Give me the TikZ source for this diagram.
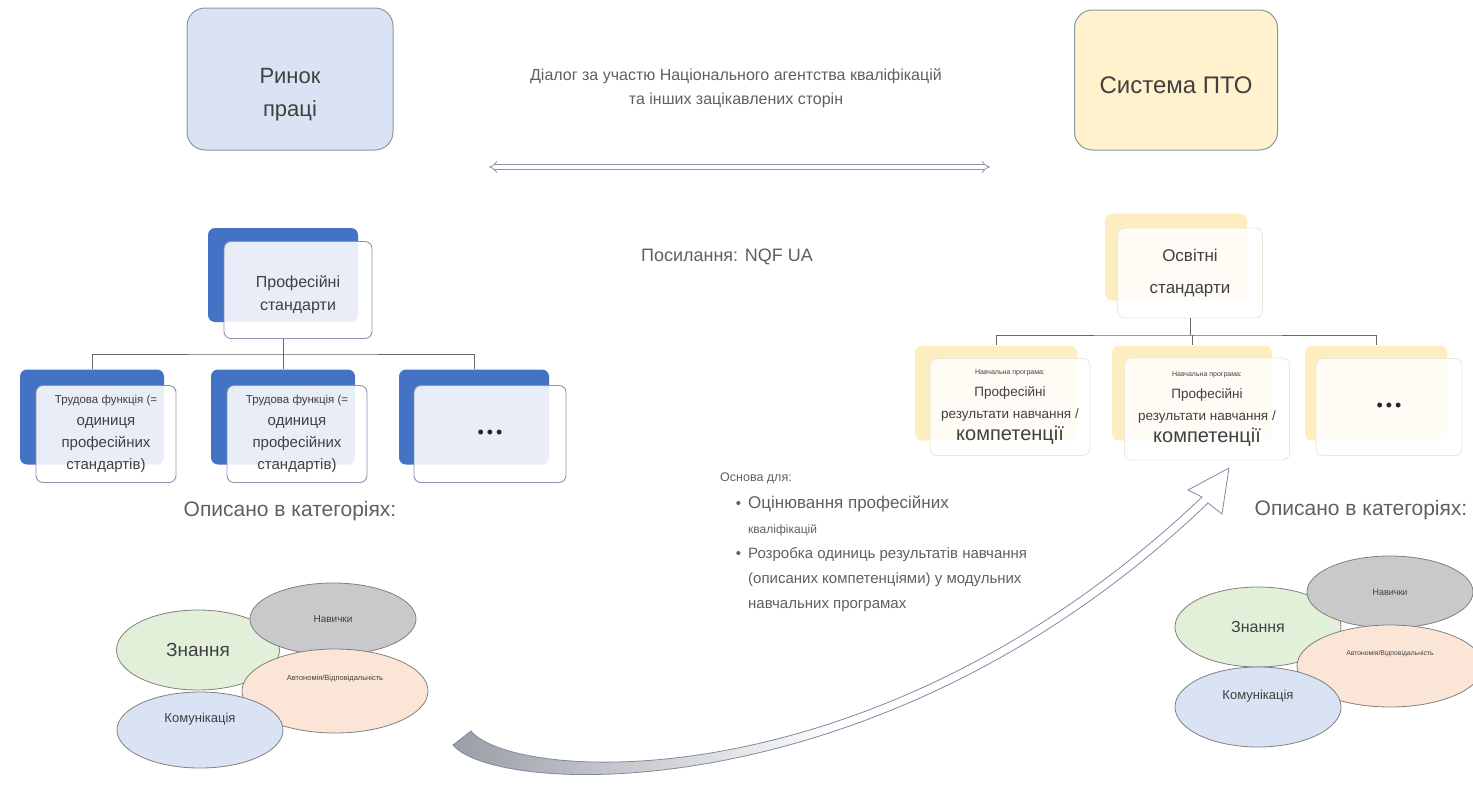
\documentclass[tikz,border=0pt]{standalone}
\usepackage{fontspec}
\setmainfont{Liberation Sans}
\usetikzlibrary{arrows.meta,shapes.geometric}

\definecolor{rinokfill}{HTML}{DAE3F3}
\definecolor{ptofill}{HTML}{FFF2CC}
\definecolor{navy}{HTML}{4472C4}
\definecolor{ypale}{HTML}{FDEEC2}
\definecolor{edgegrey}{HTML}{8A96A8}
\definecolor{yedge}{HTML}{EEE8DA}
\definecolor{txt}{HTML}{404040}
\definecolor{soft}{HTML}{5F5F5F}
\definecolor{znfill}{HTML}{E2F0D9}
\definecolor{navfill}{HTML}{C9C9CB}
\definecolor{avtfill}{HTML}{FBE5D6}
\definecolor{komfill}{HTML}{DAE3F3}
\definecolor{arrgrey}{HTML}{9A9EA5}
\definecolor{arrline}{HTML}{7D8AA0}

\newcommand{\fsz}[2]{\fontsize{#1}{#2}\selectfont}

\begin{document}
\begin{tikzpicture}[x=1pt, y=-1pt,
  bigbox/.style={draw=edgegrey, line width=1pt, rounded corners=18pt, align=center, text=txt, inner sep=0pt},
  backbox/.style={fill=navy, rounded corners=7pt, inner sep=0pt},
  frontbox/.style={draw=edgegrey, line width=0.9pt, fill=white, fill opacity=0.88, text opacity=1, rounded corners=7pt, align=center, text=txt, inner sep=0pt},
  yback/.style={fill=ypale, rounded corners=7pt, inner sep=0pt},
  yfront/.style={draw=yedge, line width=0.9pt, fill=white, fill opacity=0.85, text opacity=1, rounded corners=7pt, align=center, text=txt, inner sep=0pt},
  conn/.style={draw=black!60, line width=0.9pt},
  cat/.style={ellipse, draw=black!50, line width=0.8pt, text=txt, inner sep=0pt},
  dialogarrow/.style={draw=edgegrey, double=white, double distance=3.5pt, line width=0.8pt, {Implies}-{Implies}},
  bigarrow/.style={left color=arrgrey, right color=white, middle color=white, draw=arrline, line width=0.8pt}]

\useasboundingbox (0,0) rectangle (1473,785);
\clip (0,0) rectangle (1473,785);

\node (rinok) at (290,79) [bigbox, fill=rinokfill, minimum width=206, minimum height=142, font=\fsz{22}{33}, text height=79pt, text depth=5pt] {Ринок\\праці};
\node (pto) at (1176,80) [bigbox, fill=ptofill, minimum width=203, minimum height=140, font=\fsz{24}{28}, text height=27pt, text depth=0pt] {Система ПТО};

\node (dialog) at (736,88) [font=\fsz{16}{24}, text=soft, align=center] {Діалог за участю Національного агентства кваліфікацій\\та інших зацікавлених сторін};
\coordinate (dl) at (489,167);
\coordinate (dr) at (990,167);
\draw[dialogarrow] (dl) -- (dr);

\node (nqf) at (727,257) [font=\fsz{18}{20}, text=soft] {Посилання: NQF UA};

\node (profback) at (283,275) [backbox, minimum width=150, minimum height=94] {};
\node (prof) at (298,290) [frontbox, minimum width=148, minimum height=97, font=\fsz{16}{23}, text height=45pt, text depth=4pt] {Професійні\\стандарти};

\node (t1back) at (92,417) [backbox, minimum width=144, minimum height=95] {};
\node (t1) at (106,434) [frontbox, minimum width=140, minimum height=97, font=\fsz{15}{22}] {{\fsz{11.5}{22}Трудова функція (=}\\одиниця\\професійних\\стандартів)};
\node (t2back) at (283,417) [backbox, minimum width=144, minimum height=95] {};
\node (t2) at (297,434) [frontbox, minimum width=140, minimum height=97, font=\fsz{15}{22}] {{\fsz{11.5}{22}Трудова функція (=}\\одиниця\\професійних\\стандартів)};
\node (t3back) at (474,417) [backbox, minimum width=150, minimum height=95] {};
\node (t3) at (490,434) [frontbox, minimum width=152, minimum height=97, font=\fsz{18}{22}, text=black!85] {•\,•\,•};

\coordinate (lhub) at (283,354);
\draw[conn] (prof.south -| lhub) -- (lhub);
\draw[conn] (t1back.north) |- (lhub) -| (t3back.north);
\draw[conn] (lhub) -- (t2back.north);

\node (osvback) at (1176,257) [yback, minimum width=142, minimum height=87] {};
\node (osv) at (1190,273) [yfront, minimum width=145, minimum height=90, font=\fsz{17}{32}] {Освітні\\стандарти};

\node (n1back) at (996,393) [yback, minimum width=162, minimum height=95] {};
\node (n1) at (1010,407) [yfront, minimum width=160, minimum height=97, font=\fsz{13.5}{22}] {{\fsz{7}{22}Навчальна програма:}\\Професійні\\результати навчання /\\{\fsz{20}{22}компетенції}};
\node (n2back) at (1192,393) [yback, minimum width=160, minimum height=95] {};
\node (n2) at (1207,409) [yfront, minimum width=165, minimum height=102, font=\fsz{13.5}{22}] {{\fsz{7}{22}Навчальна програма:}\\Професійні\\результати навчання /\\{\fsz{20}{22}компетенції}};
\node (n3back) at (1376,393) [yback, minimum width=142, minimum height=95] {};
\node (n3) at (1389,407) [yfront, minimum width=146, minimum height=97, font=\fsz{18}{22}, text=black!85] {•\,•\,•};

\coordinate (rhub) at (1190,335);
\draw[conn] (osv.south) -- (rhub);
\draw[conn] (n1back.north) |- (rhub) -| (n3back.north);
\draw[conn] (n2back.north |- rhub) -- (n2back.north);

\node (opysL) at (290,511) [font=\fsz{21}{24}, text=soft] {Описано в категоріях:};
\node (opysR) at (1361,510) [font=\fsz{21}{24}, text=soft] {Описано в категоріях:};

\node (znL) at (198,650) [cat, fill=znfill, minimum width=163, minimum height=80, font=\fsz{19}{20}] {Знання};
\node (navL) at (333,619) [cat, fill=navfill, minimum width=166, minimum height=72, font=\fsz{10}{12}] {Навички};
\node (avtL) at (335,691) [cat, fill=avtfill, minimum width=186, minimum height=84, font=\fsz{7.5}{9}, text depth=26pt] {Автономія/Відповідальність};
\node (komL) at (200,730) [cat, fill=komfill, minimum width=166, minimum height=76, font=\fsz{13}{15}, text depth=24pt] {Комунікація};

\node (znR) at (1258,627) [cat, fill=znfill, minimum width=166, minimum height=80, font=\fsz{16}{18}] {Знання};
\node (navR) at (1390,592) [cat, fill=navfill, minimum width=166, minimum height=72, font=\fsz{9}{11}] {Навички};
\node (avtR) at (1390,666) [cat, fill=avtfill, minimum width=186, minimum height=82, font=\fsz{6.8}{8}, text depth=26pt] {Автономія/Відповідальність};
\node (komR) at (1258,707) [cat, fill=komfill, minimum width=166, minimum height=80, font=\fsz{13}{15}, text depth=24pt] {Комунікація};

\node (osnova) at (720,473) [anchor=north west, align=left, text=soft, inner sep=0pt, font=\fsz{15}{25}] {{\fsz{12.5}{25}Основа для:}\\[2pt]
\hspace*{28pt}\llap{•\hspace{7pt}}{\fsz{17}{25}Оцінювання професійних}\\
\hspace*{28pt}{\fsz{12}{25}кваліфікацій}\\
\hspace*{28pt}\llap{•\hspace{7pt}}Розробка одиниць результатів навчання\\
\hspace*{28pt}(описаних компетенціями) у модульних\\
\hspace*{28pt}навчальних програмах};

\shadedraw[bigarrow] (453,745) .. controls (496,797) and (884,814) .. (1208,503)
  -- (1222,514) -- (1229,468) -- (1188,490) -- (1202,497)
  .. controls (877,806) and (514,783) .. (471,731) -- cycle;
\end{tikzpicture}
\end{document}
